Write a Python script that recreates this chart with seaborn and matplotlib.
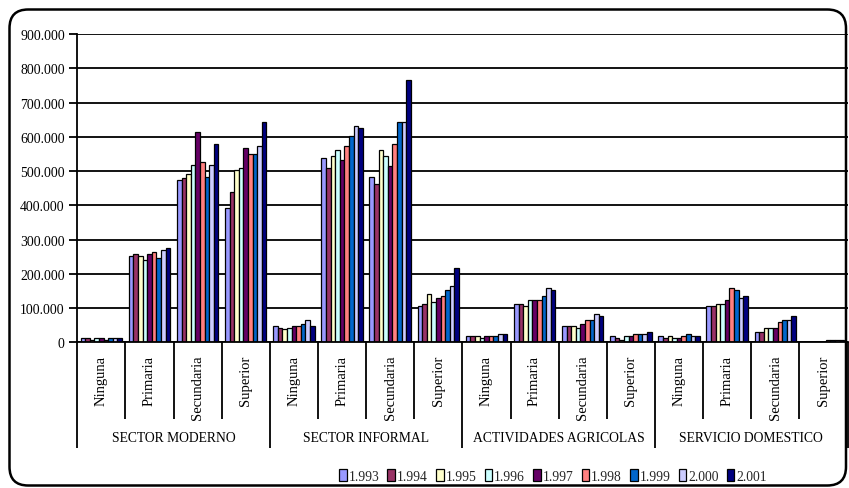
import matplotlib
matplotlib.use("Agg")
import matplotlib.pyplot as plt
from matplotlib.patches import FancyBboxPatch, Patch
from matplotlib.ticker import FuncFormatter
import seaborn as sns
import pandas as pd

sectores = ["SECTOR MODERNO", "SECTOR INFORMAL", "ACTIVIDADES AGRICOLAS", "SERVICIO DOMESTICO"]
niveles = ["Ninguna", "Primaria", "Secundaria", "Superior"]
anios = ["1.993", "1.994", "1.995", "1.996", "1.997", "1.998", "1.999", "2.000", "2.001"]
colores = ["#9999FF", "#993366", "#FFFFCC", "#CCFFFF", "#660066",
           "#FF8080", "#0066CC", "#CCCCFF", "#000080"]

# values per (sector, level), one per year 1993..2001
sm_ninguna = [12000, 12000, 8000, 12000, 12000, 8000, 12000, 12000, 12000]
sm_primaria = [251000, 257000, 251000, 239000, 257000, 263000, 245000, 268000, 274000]
sm_secundaria = [473000, 479000, 490000, 519000, 613000, 525000, 484000, 519000, 578000]
sm_superior = [391000, 438000, 502000, 508000, 566000, 549000, 549000, 572000, 642000]

si_ninguna = [47000, 41000, 39000, 41000, 47000, 47000, 53000, 64000, 47000]
si_primaria = [537000, 508000, 543000, 560000, 531000, 572000, 601000, 630000, 625000]
si_secundaria = [484000, 461000, 560000, 543000, 516000, 578000, 642000, 642000, 765000]
si_superior = [105000, 111000, 140000, 117000, 128000, 134000, 152000, 163000, 216000]

aa_ninguna = [17500, 17500, 17500, 12000, 17500, 17500, 17500, 23000, 23000]
aa_primaria = [111000, 111000, 105000, 123000, 123000, 123000, 134000, 158000, 152000]
aa_secundaria = [47000, 47000, 47000, 41000, 53000, 64000, 64000, 82000, 76000]
aa_superior = [17500, 12000, 8000, 17500, 17500, 23000, 23000, 23000, 29000]

sd_ninguna = [17500, 12000, 17500, 12000, 12000, 17500, 23000, 17500, 17500]
sd_primaria = [105000, 105000, 111000, 111000, 123000, 158000, 152000, 128000, 134000]
sd_secundaria = [29000, 29000, 41000, 41000, 41000, 58000, 64000, 64000, 76000]
sd_superior = [0, 0, 0, 0, 0, 6000, 6000, 6000, 6000]

series = [
    [sm_ninguna, sm_primaria, sm_secundaria, sm_superior],
    [si_ninguna, si_primaria, si_secundaria, si_superior],
    [aa_ninguna, aa_primaria, aa_secundaria, aa_superior],
    [sd_ninguna, sd_primaria, sd_secundaria, sd_superior],
]

rows = []
keys = []
for s, sector in enumerate(sectores):
    for n, nivel in enumerate(niveles):
        key = f"{sector}|{nivel}"
        keys.append(key)
        for a, anio in enumerate(anios):
            rows.append({"grupo": key, "anio": anio, "valor": series[s][n][a]})
df = pd.DataFrame(rows)

sns.set_theme(style="white")
plt.rcParams["font.family"] = ["Liberation Serif", "DejaVu Serif"]
plt.rcParams["font.size"] = 9.6

W, H = 849, 489
fig = plt.figure(figsize=(W / 100, H / 100), dpi=100)
fig.patch.set_facecolor("white")

# rounded chart border
border = FancyBboxPatch((9.5 / W, 2.5 / H), (846 - 9.5) / W, (478.5 - 2.5) / H,
                        boxstyle="round,pad=0,rounding_size=0.022",
                        transform=fig.transFigure, fill=False,
                        edgecolor="black", linewidth=1.8, mutation_aspect=W / H)
fig.patches.append(border)

left, right = 77.3 / W, 847.5 / W
bottom, top = 1 - 343.3 / H, 1 - 35 / H
ax = fig.add_axes([left, bottom, right - left, top - bottom])

sns.barplot(data=df, x="grupo", y="valor", hue="anio", order=keys, hue_order=anios,
            palette=colores, width=0.86, edgecolor="black", linewidth=0.9,
            saturation=1, ax=ax, legend=False)

ax.set_xlim(-0.5, len(keys) - 0.5)
ax.set_ylim(0, 900000)
ax.set_yticks(range(0, 900001, 100000))
ax.yaxis.set_major_formatter(FuncFormatter(lambda v, p: "0" if v == 0 else f"{int(v):,}".replace(",", ".")))
ax.set_xticks([])
ax.set_xlabel("")
ax.set_ylabel("")
ax.grid(axis="y", color="black", linewidth=1.3)
ax.set_axisbelow(True)
for sp in ["top", "right"]:
    ax.spines[sp].set_visible(False)
ax.spines["left"].set_color("black")
ax.spines["left"].set_linewidth(1.3)
ax.spines["bottom"].set_color("black")
ax.spines["bottom"].set_linewidth(1.3)
ax.tick_params(axis="y", direction="out", length=6, width=1.3, color="black",
               labelsize=9.9, labelcolor="black", pad=3, left=True)

# category separators and labels
trans = ax.get_xaxis_transform()
axh = (top - bottom) * H
short_y = -(420 - 343.3) / axh
long_y = -(449 - 343.3) / axh
for b in range(len(keys) + 1):
    xb = b - 0.5
    ylow = long_y if b % 4 == 0 else short_y
    ax.plot([xb, xb], [0, ylow], transform=trans, color="black", linewidth=1.3,
            clip_on=False, solid_capstyle="butt")

label_top = -(356 - 343.3) / axh
for i, key in enumerate(keys):
    nivel = key.split("|")[1]
    ax.text(i, label_top, nivel, transform=trans, rotation=90, ha="center", va="top",
            fontsize=10.5, color="black")

sector_y = -(439 - 343.3) / axh
for s, sector in enumerate(sectores):
    ax.text(s * 4 + 1.5, sector_y, sector, transform=trans, ha="center", va="center",
            fontsize=9.8, color="black")

handles = [Patch(facecolor=c, edgecolor="black", linewidth=0.9) for c in colores]
fig.legend(handles, anios, loc="center", bbox_to_anchor=(553 / W, 1 - 477 / H), ncol=9,
           frameon=False, fontsize=9.8, handlelength=0.55, handleheight=1.0,
           handletextpad=0.15, columnspacing=0.6, borderaxespad=0)

fig.savefig("out.png", dpi=100, facecolor="white")
